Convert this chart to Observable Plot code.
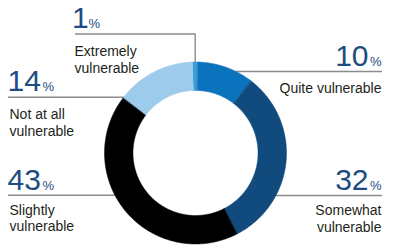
<!DOCTYPE html>
<html>
<head>
<meta charset="utf-8">
<script src="https://cdn.jsdelivr.net/npm/d3@7"></script>
<script src="https://cdn.jsdelivr.net/npm/@observablehq/plot@0.6"></script>
<style>
  html, body { margin: 0; padding: 0; background: #fff; }
  #chart svg { display: block; }
</style>
</head>
<body>
<div id="chart"></div>
<script>
// ---- Data ----
const categories = ["Extremely vulnerable", "Quite vulnerable", "Somewhat vulnerable", "Slightly vulnerable", "Not at all vulnerable"];
const values = [1, 10, 32, 43, 14];
const valueLabels = ["1", "10", "32", "43", "14"];
const labelTexts = ["Extremely\nvulnerable", "Quite vulnerable", "Somewhat\nvulnerable", "Slightly\nvulnerable", "Not at all\nvulnerable"];
const colors = ["#3d9bd8", "#0b72bd", "#114a7d", "#000000", "#9dcbeb"];

// ---- Layout (pixel-space) ----
const ring = { cx: 195, cy: 152.5, R: 91, r: 62.5, startDeg: -2 };
const layout = [
  { side: 0,  anchor: "start", numX: 71.5, pctX: 88,  numY: 27,  lineY: 33.5, lineX: 75,  textX: 74,  textY: 72.5 },
  { side: 1,  anchor: "end",   numX: 368,  pctX: 381, numY: 65,  lineY: 71,   lineX: 381, textX: 381, textY: 92 },
  { side: 1,  anchor: "end",   numX: 368,  pctX: 381, numY: 189, lineY: 195,  lineX: 381, textX: 381, textY: 231 },
  { side: -1, anchor: "start", numX: 7,   pctX: 42,   numY: 189, lineY: 194.7, lineX: 8,  textX: 9,   textY: 230.7 },
  { side: -1, anchor: "start", numX: 7,   pctX: 42,   numY: 90,  lineY: 96.7, lineX: 8,   textX: 9,   textY: 135 }
];

// ---- Build ring polygons from the values ----
const deg = Math.PI / 180;
const arcs = d3.pie().sort(null)
  .startAngle(ring.startDeg * deg)
  .endAngle(2 * Math.PI + ring.startDeg * deg)(values);

const ringPts = arcs.flatMap((a, i) => {
  const n = Math.max(2, Math.ceil((a.endAngle - a.startAngle) / 0.01));
  const pts = [];
  for (let k = 0; k <= n; k++) {
    const t = a.startAngle + (a.endAngle - a.startAngle) * k / n;
    pts.push({ k: categories[i], x: ring.cx + ring.R * Math.sin(t), y: ring.cy - ring.R * Math.cos(t), c: colors[i] });
  }
  for (let k = n; k >= 0; k--) {
    const t = a.startAngle + (a.endAngle - a.startAngle) * k / n;
    pts.push({ k: categories[i], x: ring.cx + ring.r * Math.sin(t), y: ring.cy - ring.r * Math.cos(t), c: colors[i] });
  }
  return pts;
});

// ---- Leader lines ----
const leaderPts = layout.flatMap((L, i) => {
  if (L.side === 0) {
    const mid = (arcs[i].startAngle + arcs[i].endAngle) / 2;
    const xm = ring.cx + ring.R * Math.sin(mid);
    const ym = ring.cy - ring.R * Math.cos(mid);
    return [
      { k: i, x: L.lineX, y: L.lineY },
      { k: i, x: xm, y: L.lineY },
      { k: i, x: xm, y: ym }
    ];
  }
  const dy = L.lineY - ring.cy;
  const xe = ring.cx + L.side * Math.sqrt(ring.R * ring.R - dy * dy);
  return [
    { k: i, x: L.lineX, y: L.lineY },
    { k: i, x: xe, y: L.lineY }
  ];
});

const labelRows = categories.map((c, i) => ({
  cat: c, num: valueLabels[i], text: labelTexts[i], ...layout[i]
}));
const leftRows = labelRows.filter(d => d.anchor === "start");
const rightRows = labelRows.filter(d => d.anchor === "end");

const font = "'Liberation Sans', Arial, sans-serif";
const navy = "#1d4c82";
const ink = "#231f20";

function labelMarks(rows, anchor) {
  return [
    Plot.text(rows, { x: "numX", y: "numY", text: "num", textAnchor: anchor, lineAnchor: "bottom", fontSize: 30, fill: navy, fontFamily: font }),
    Plot.text(rows, { x: "pctX", y: "numY", text: () => "%", textAnchor: anchor, lineAnchor: "bottom", fontSize: 13, fill: navy, fontFamily: font }),
    Plot.text(rows, { x: "textX", y: "textY", text: "text", textAnchor: anchor, lineAnchor: "bottom", lineHeight: 1.18, fontSize: 14, fill: ink, fontFamily: font })
  ];
}

const chart = Plot.plot({
  width: 400,
  height: 248,
  margin: 0,
  x: { domain: [0, 400], range: [0, 400], axis: null },
  y: { domain: [0, 248], range: [0, 248], axis: null },
  color: { type: "identity" },
  style: { fontFamily: font, background: "#fff", overflow: "visible" },
  marks: [
    Plot.line(leaderPts, { x: "x", y: "y", z: "k", stroke: "#8c8c8c", strokeWidth: 1.4 }),
    Plot.line(ringPts, { x: "x", y: "y", z: "k", fill: "c", stroke: "c", strokeWidth: 0.5, curve: "linear-closed" }),
    ...labelMarks(leftRows, "start"),
    ...labelMarks(rightRows, "end")
  ]
});

document.getElementById("chart").appendChild(chart);
</script>
</body>
</html>
